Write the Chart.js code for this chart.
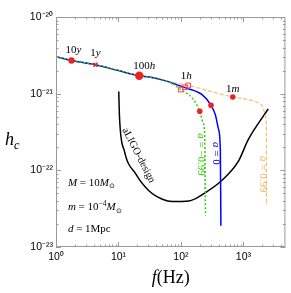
<!DOCTYPE html>
<html lang="en">
<head>
<meta charset="UTF-8">
<title>hc vs f</title>
<script src="https://cdn.jsdelivr.net/npm/chart.js@4.4.1/dist/chart.umd.min.js"></script>
<style>
  html, body { margin: 0; padding: 0; background: #fff; }
  canvas { display: block; }
</style>
</head>
<body>
<canvas id="hcChart" width="291" height="293"></canvas>
<script>
// inspiral part shared by all three spins
const fCommon  = [1, 1.77, 4.27, 10, 21.5, 31, 55];
const hcCommon = [3.03e-21, 2.71e-21, 2.38e-21, 2.00e-21, 1.71e-21, 1.65e-21, 1.48e-21];

// a = -0.99 (green), a = 0 (blue), a = 0.99 (orange)
const fNeg  = [75, 98.9, 151, 200, 226, 240, 247];
const hcNeg = [1.33e-21, 1.13e-21, 8.79e-22, 5.89e-22, 4.16e-22, 2.79e-22, 2.55e-23];
const fZero  = [118.8, 218, 303, 355, 401, 427, 436];
const hcZero = [1.19e-21, 9.71e-22, 7.05e-22, 5.33e-22, 3.40e-22, 1.87e-22, 1.89e-23];
const fPos  = [130.6, 676, 1200, 1729, 2077, 2259, 2330, 2340];
const hcPos = [1.28e-21, 9.06e-22, 8.36e-22, 7.57e-22, 6.52e-22, 5.07e-22, 3.76e-22, 3.51e-23];

// aLIGO design sensitivity
const fLigo  = [10.1, 10.4, 12.45, 19.1, 31, 50.5, 72.8, 134, 247, 453, 833, 1200, 2495];
const hcLigo = [1.07e-21, 4.84e-22, 1.78e-22, 8.87e-23, 5.38e-23, 4.20e-23, 3.92e-23, 3.99e-23, 5.13e-23, 7.41e-23, 1.32e-22, 2.53e-22, 6.32e-22];

// time-before-merger markers
const fDots  = [1.77, 21.5, 200, 303, 676];      // 10y, 100h, and three on the spin curves
const hcDots = [2.71e-21, 1.71e-21, 5.89e-22, 7.05e-22, 9.06e-22];
const fCross  = [4.27];                           // 1y
const hcCross = [2.38e-21];
const fSquares  = [98.9, 116, 130.6];             // 1h
const hcSquares = [1.13e-21, 1.21e-21, 1.28e-21];

const xTicks = [1, 10, 100, 1000];
const yTicks = [1e-23, 1e-22, 1e-21, 1e-20];

function pts(fs, hs) { return fs.map((f, i) => ({ x: f, y: hs[i] })); }

const supMap = { '-': '⁻', '0': '⁰', '1': '¹', '2': '²', '3': '³', '4': '⁴', '5': '⁵', '6': '⁶', '7': '⁷', '8': '⁸', '9': '⁹' };
function powLabel(v, list) {
  if (!list.some(t => Math.abs(t / v - 1) < 1e-6)) return '';
  const e = Math.round(Math.log10(v));
  return '10' + String(e).split('').map(c => supMap[c]).join('');
}

function rich(ctx, x, y, parts, size, align) {
  const widths = parts.map(p => {
    const s = (p.sub || p.sup) ? size * 0.68 : size;
    ctx.font = (p.it ? 'italic ' : '') + s + 'px "Liberation Serif"';
    return ctx.measureText(p.t).width;
  });
  const total = widths.reduce((a, b) => a + b, 0);
  let cx = align === 'center' ? x - total / 2 : x;
  ctx.textAlign = 'left';
  parts.forEach((p, i) => {
    const s = (p.sub || p.sup) ? size * 0.68 : size;
    ctx.font = (p.it ? 'italic ' : '') + s + 'px "Liberation Serif"';
    const dy = p.sub ? size * 0.22 : p.sup ? -size * 0.4 : 0;
    ctx.fillText(p.t, cx, y + dy);
    cx += widths[i];
  });
}

const decor = {
  id: 'decor',
  afterDraw(chart) {
    const ctx = chart.ctx;
    const xs = chart.scales.x, ys = chart.scales.y;
    const a = chart.chartArea;
    ctx.save();

    // frame with inward ticks on all four sides
    ctx.strokeStyle = '#9a9a9a';
    ctx.lineWidth = 1;
    ctx.strokeRect(a.left + 0.5, a.top + 0.5, a.right - a.left - 1, a.bottom - a.top - 1);
    ctx.beginPath();
    for (let e = 0; e <= 3; e++) {
      for (let k = 1; k <= 9; k++) {
        const v = k * Math.pow(10, e);
        if (v > xs.max) break;
        const px = Math.round(xs.getPixelForValue(v)) + 0.5;
        const len = k === 1 ? 5 : 2.5;
        ctx.moveTo(px, a.bottom); ctx.lineTo(px, a.bottom - len);
        ctx.moveTo(px, a.top); ctx.lineTo(px, a.top + len);
      }
    }
    for (let e = -23; e <= -21; e++) {
      for (let k = 1; k <= 9; k++) {
        const v = k * Math.pow(10, e);
        const py = Math.round(ys.getPixelForValue(v)) + 0.5;
        const len = k === 1 ? 5 : 2.5;
        ctx.moveTo(a.left, py); ctx.lineTo(a.left + len, py);
        ctx.moveTo(a.right, py); ctx.lineTo(a.right - len, py);
      }
    }
    ctx.stroke();

    // marker labels
    ctx.fillStyle = '#000';
    ctx.textBaseline = 'alphabetic';
    const P = (f, h) => [xs.getPixelForValue(f), ys.getPixelForValue(h)];
    const mark = (f, h, dx, dy, num, unit) => {
      const [px, py] = P(f, h);
      rich(ctx, px + dx, py + dy, [{ t: num }, { t: unit, it: true }], 11, 'center');
    };
    mark(fDots[0], hcDots[0], 2, -7.5, '10', 'y');
    mark(fCross[0], hcCross[0], 0, -8.3, '1', 'y');
    mark(fDots[1], hcDots[1], 5, -6.5, '100', 'h');
    mark(fSquares[2], hcSquares[2], -2, -6.7, '1', 'h');
    mark(fDots[4], hcDots[4], 0, -4.8, '1', 'm');

    // spin labels, rotated
    const vlabel = (f, h, color, val) => {
      const [px, py] = P(f, h);
      ctx.save();
      ctx.translate(px, py);
      ctx.rotate(Math.PI / 2);
      ctx.fillStyle = color;
      ctx.textBaseline = 'middle';
      rich(ctx, 0, 0, [{ t: 'a', it: true }, { t: ' = ' + val }], 11, 'center');
      ctx.restore();
    };
    vlabel(211, 1.61e-22, '#33cc00', '−0.99');
    vlabel(366, 1.66e-22, '#0000ff', '0');
    vlabel(2077, 8.87e-23, '#f5b55f', '0.99');

    // aLIGO label along the curve
    {
      const [px, py] = P(20.9, 1.57e-22);
      ctx.save();
      ctx.translate(px, py);
      ctx.rotate(62.6 * Math.PI / 180);
      ctx.fillStyle = '#000';
      ctx.textBaseline = 'middle';
      rich(ctx, 0, 0, [{ t: 'aLIGO-design' }], 10.5, 'center');
      ctx.restore();
    }

    // parameters
    ctx.fillStyle = '#000';
    ctx.textBaseline = 'alphabetic';
    let [lx, ly] = P(1.55, 6.29e-23);
    rich(ctx, lx, ly, [{ t: 'M', it: true }, { t: ' = 10' }, { t: 'M', it: true }, { t: '⊙', sub: true }], 11);
    [lx, ly] = P(1.55, 3.03e-23);
    rich(ctx, lx, ly, [{ t: 'm', it: true }, { t: ' = 10' }, { t: '−4', sup: true }, { t: 'M', it: true }, { t: '⊙', sub: true }], 11);
    [lx, ly] = P(1.55, 1.59e-23);
    rich(ctx, lx, ly, [{ t: 'd', it: true }, { t: ' = 1Mpc' }], 11);

    // axis titles
    rich(ctx, 5, 145, [{ t: 'h', it: true }, { t: 'c', it: true, sub: true }], 18);
    rich(ctx, (a.left + a.right) / 2, 283, [{ t: 'f', it: true }, { t: '(Hz)' }], 18, 'center');

    ctx.restore();
  }
};

const line = (data, color, width, dash, order) => ({
  data, borderColor: color, borderWidth: width, borderDash: dash,
  showLine: true, pointRadius: 0, fill: false,
  cubicInterpolationMode: 'monotone', clip: 0, order
});

new Chart(document.getElementById('hcChart'), {
  type: 'scatter',
  data: {
    datasets: [
      line(pts(fLigo, hcLigo), '#000000', 1.5, [], 5),
      line(pts(fCommon.concat(fPos), hcCommon.concat(hcPos)), '#f8bd6a', 1.2, [4, 2], 4),
      line(pts(fCommon.concat(fZero), hcCommon.concat(hcZero)), '#0000ff', 1.5, [], 3),
      line(pts(fCommon.concat(fNeg), hcCommon.concat(hcNeg)), '#33cc00', 1.5, [2, 2], 2),
      {
        data: pts(fSquares, hcSquares), pointStyle: 'rect', pointRadius: 3.3,
        borderColor: '#f04848', borderWidth: 1, backgroundColor: 'rgba(0,0,0,0)', order: 1
      },
      {
        data: pts(fCross, hcCross), pointStyle: 'crossRot', pointRadius: 2.8,
        borderColor: '#ee2222', borderWidth: 1.6, order: 0
      },
      {
        data: pts(fDots, hcDots),
        pointRadius: ctx => [3.2, 4.2, 2.8, 2.8, 2.8][ctx.dataIndex],
        backgroundColor: '#ee2222', borderColor: '#ee2222', borderWidth: 0, order: 0
      }
    ]
  },
  options: {
    responsive: false,
    animation: false,
    devicePixelRatio: 1,
    layout: { padding: { top: 17, right: 3, left: 0, bottom: 0 } },
    plugins: { legend: { display: false }, tooltip: { enabled: false } },
    scales: {
      x: {
        type: 'logarithmic', min: 1, max: 4700,
        grid: { display: false, drawTicks: false }, border: { display: false },
        afterFit: s => { s.height = 46; s.paddingLeft = 0; s.paddingRight = 0; },
        ticks: {
          autoSkip: false, maxRotation: 0, padding: 4, color: '#000',
          font: { family: 'Liberation Sans', size: 10.5 },
          callback: v => powLabel(v, xTicks)
        }
      },
      y: {
        type: 'logarithmic', min: 1e-23, max: 1e-20,
        grid: { display: false, drawTicks: false }, border: { display: false },
        afterFit: s => { s.width = 56; s.paddingTop = 0; s.paddingBottom = 0; },
        ticks: {
          autoSkip: false, padding: 3, color: '#000',
          font: { family: 'Liberation Sans', size: 10.5 },
          callback: v => powLabel(v, yTicks)
        }
      }
    }
  },
  plugins: [decor]
});
</script>
</body>
</html>
